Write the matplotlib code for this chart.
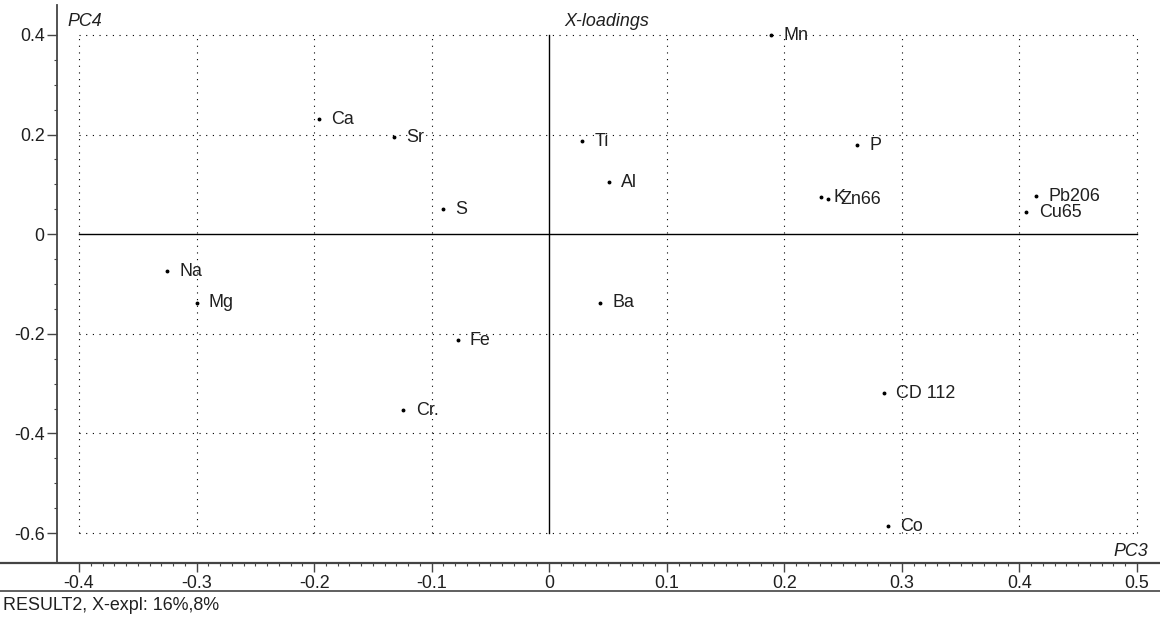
import numpy as np
import matplotlib
matplotlib.use('Agg')
import matplotlib.pyplot as plt
import matplotlib.ticker as mticker
from matplotlib.lines import Line2D

plt.rcParams['font.family'] = ['Liberation Sans', 'DejaVu Sans']

labels = ["Mn", "Ca", "Sr", "Ti", "P", "Al", "S", "K", "Zn66", "Pb206", "Cu65",
          "Na", "Mg", "Ba", "Fe", "CD 112", "Cr.", "Co"]
pc3 = [0.189, -0.196, -0.132, 0.028, 0.262, 0.051, -0.090, 0.231, 0.237, 0.414, 0.406,
       -0.325, -0.300, 0.043, -0.078, 0.285, -0.124, 0.288]
pc4 = [0.399, 0.231, 0.195, 0.187, 0.179, 0.104, 0.050, 0.074, 0.070, 0.076, 0.044,
       -0.074, -0.138, -0.138, -0.213, -0.319, -0.353, -0.586]

xticks = [-0.4, -0.3, -0.2, -0.1, 0, 0.1, 0.2, 0.3, 0.4, 0.5]
yticks = [-0.6, -0.4, -0.2, 0, 0.2, 0.4]

W, H = 1160, 621
FS = 12.9
TXT = '#202020'

fig = plt.figure(figsize=(W / 100, H / 100), dpi=100)
ax = fig.add_axes([0, (H - 563) / H, 1, (563 - 5) / H])

ax.set_xlim(-0.4 - 79 / 1175, 0.5 + 23 / 1175)
ax.set_ylim(-0.6 - 30 / 498.5, 0.4 + 30 / 498.5)

# grid inside the -0.4..0.5 / -0.6..0.4 box
dots = dict(color='black', lw=0.8, linestyle=(0, (1, 5)))
for x in xticks:
    if x != 0:
        ax.plot([x, x], [-0.6, 0.4], **dots)
for y in yticks:
    if y != 0:
        ax.plot([-0.4, 0.5], [y, y], **dots)
ax.plot([0, 0], [-0.6, 0.4], color='black', lw=1.0)
ax.plot([-0.4, 0.5], [0, 0], color='black', lw=1.0)

ax.plot(pc3, pc4, 'o', color='black', markersize=1.8, linestyle='none')
for lab, x, y in zip(labels, pc3, pc4):
    ax.annotate(lab, (x, y), xytext=(8.8, 0), textcoords='offset points',
                va='center', ha='left', fontsize=FS, color=TXT)

# axes styling
for s in ['top', 'right']:
    ax.spines[s].set_visible(False)
ax.spines['left'].set_position(('data', -0.4 - 22 / 1175))
ax.spines['left'].set_color('#444444')
ax.spines['left'].set_linewidth(1.3)
ax.spines['bottom'].set_color('#444444')
ax.spines['bottom'].set_linewidth(1.6)

ax.xaxis.set_major_locator(mticker.FixedLocator(xticks))
ax.xaxis.set_minor_locator(mticker.FixedLocator(np.round(np.arange(-0.4, 0.5001, 0.01), 3)))
ax.yaxis.set_major_locator(mticker.FixedLocator(yticks))
ax.yaxis.set_minor_locator(mticker.FixedLocator(np.round(np.arange(-0.6, 0.4001, 0.05), 3)))
fmt = mticker.FuncFormatter(lambda v, p: '0' if abs(v) < 1e-9 else '%g' % v)
ax.xaxis.set_major_formatter(fmt)
ax.yaxis.set_major_formatter(fmt)
ax.tick_params(axis='x', which='major', direction='out', length=6.5, width=1, color='#444444',
               labelsize=FS, labelcolor=TXT, pad=2.5)
ax.tick_params(axis='x', which='minor', direction='out', length=2.2, width=0.8, color='#444444')
ax.tick_params(axis='y', which='major', direction='out', length=7, width=1, color='#444444',
               labelsize=FS, labelcolor=TXT, pad=2)
ax.tick_params(axis='y', which='minor', direction='out', length=2.5, width=0.8, color='#444444')

# captions
def ftext(px, py, s, **kw):
    fig.text(px / W, 1 - py / H, s, fontsize=FS, color=TXT, va='center', **kw)

ftext(67, 21, "PC4", style='italic', ha='left')
ftext(607, 21, "X-loadings", style='italic', ha='center')
ftext(1148, 552, "PC3", style='italic', ha='right')
ftext(3, 606, "RESULT2, X-expl: 16%,8%", ha='left')

fig.add_artist(Line2D([0, 1], [1 - 591 / H, 1 - 591 / H], transform=fig.transFigure,
                      color='#444444', lw=1.2))

fig.savefig('out.png', dpi=100)
